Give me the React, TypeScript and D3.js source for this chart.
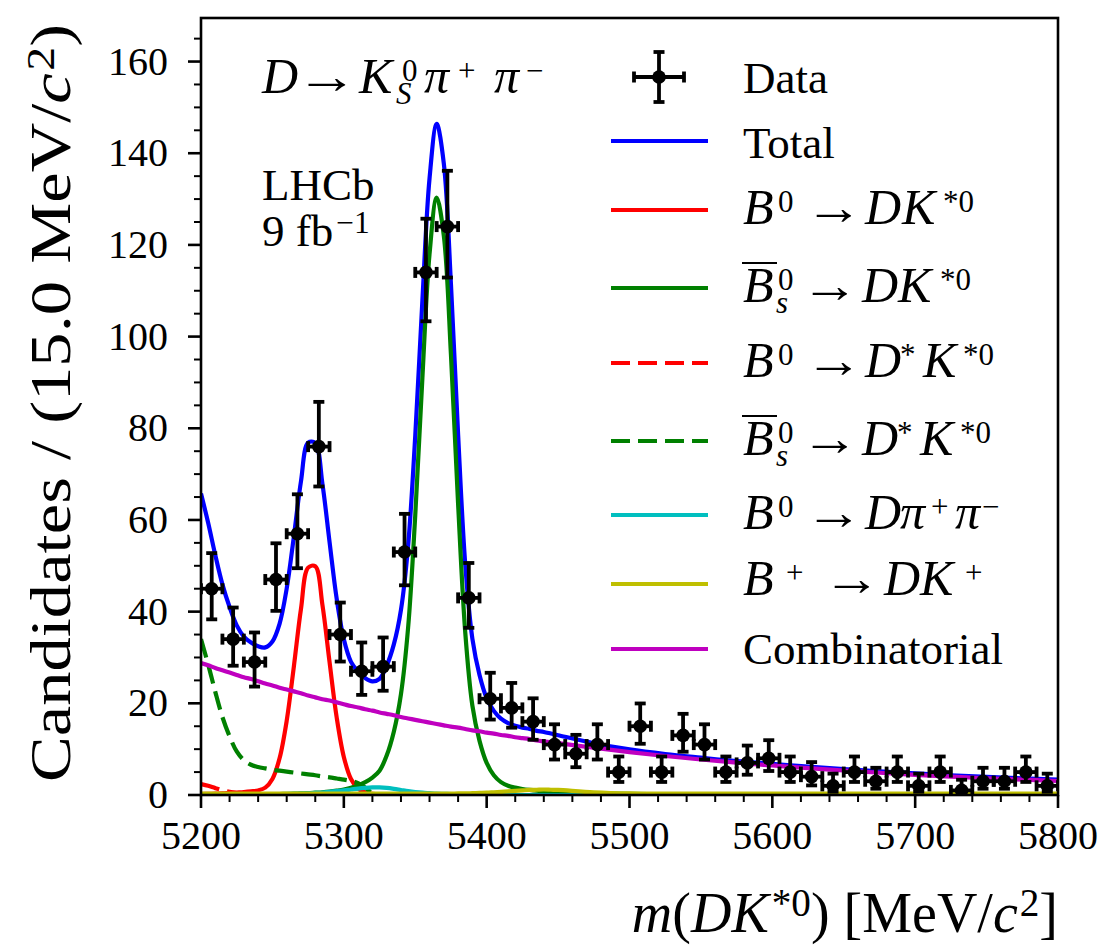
import React from "react";
import * as d3 from "d3";

// ---------------- data ----------------
const binCenters = [
  5207.5, 5222.5, 5237.5, 5252.5, 5267.5, 5282.5, 5297.5, 5312.5, 5327.5, 5342.5,
  5357.5, 5372.5, 5387.5, 5402.5, 5417.5, 5432.5, 5447.5, 5462.5, 5477.5, 5492.5,
  5507.5, 5522.5, 5537.5, 5552.5, 5567.5, 5582.5, 5597.5, 5612.5, 5627.5, 5642.5,
  5657.5, 5672.5, 5687.5, 5702.5, 5717.5, 5732.5, 5747.5, 5762.5, 5777.5, 5792.5,
];
const counts = [
  45, 34, 29, 47, 57, 76, 35, 27, 28, 53,
  114, 124, 43, 21, 19, 16, 11, 9, 11, 5,
  15, 5, 13, 11, 5, 7, 8, 5, 4, 2,
  5, 3, 5, 2, 5, 1, 3, 3, 5, 2,
];
const binHalfWidth = 7.5;

const gridMass = [
  5200, 5205, 5210, 5215, 5220, 5225, 5230, 5235, 5240, 5245, 5250, 5255, 5260, 5265, 5270,
  5275, 5280, 5285, 5290, 5295, 5300, 5305, 5310, 5315, 5320, 5325, 5330, 5335, 5340, 5345,
  5350, 5355, 5360, 5365, 5370, 5375, 5380, 5385, 5390, 5395, 5400, 5405, 5410, 5415, 5420,
  5425, 5430, 5435, 5440, 5445, 5450,
  5475, 5500, 5525, 5550, 5575, 5600, 5625, 5650, 5675, 5700, 5725, 5750, 5775, 5800,
];
const combinatorial = [
  28.8, 28.3, 27.7, 27.2, 26.7, 26.2, 25.7, 25.3, 24.8, 24.3, 23.9, 23.4, 23.0, 22.6, 22.2,
  21.7, 21.3, 20.9, 20.6, 20.2, 19.8, 19.4, 19.1, 18.7, 18.4, 18.0, 17.7, 17.4, 17.0, 16.7,
  16.4, 16.1, 15.8, 15.5, 15.2, 14.9, 14.7, 14.4, 14.1, 13.9, 13.6, 13.4, 13.1, 12.9, 12.6,
  12.4, 12.2, 11.9, 11.7, 11.5, 11.3,
  10.3, 9.35, 8.5, 7.75, 7.05, 6.45, 5.85, 5.35, 4.85, 4.4, 4.0, 3.65, 3.35, 3.05,
];
const b0DKst = [
  0.2, 0.25, 0.3, 0.35, 0.45, 0.55, 0.65, 0.8, 1.0, 1.6, 3.5, 8.0, 16.2, 28.0, 40.6,
  49.6, 49.9, 41.5, 29.0, 16.9, 8.3, 3.5, 1.4, 0.55, 0.25, 0.1, 0.05, 0, 0, 0,
  0, 0, 0, 0, 0, 0, 0, 0, 0, 0, 0, 0, 0, 0, 0,
  0, 0, 0, 0, 0, 0,
  0, 0, 0, 0, 0, 0, 0, 0, 0, 0, 0, 0, 0, 0,
];
const bsDKst = [
  0, 0, 0, 0, 0, 0, 0.05, 0.05, 0.1, 0.1, 0.15, 0.2, 0.25, 0.3, 0.35,
  0.4, 0.5, 0.6, 0.75, 0.95, 1.2, 1.6, 2.1, 2.8, 3.8, 5.3, 8.6, 13.8, 22.0, 36.5,
  61.0, 91.0, 118.0, 130.3, 122.0, 96.0, 63.5, 35.5, 19.5, 11.8, 7.0, 4.3, 2.8, 2.0, 1.6,
  1.3, 1.1, 0.95, 0.85, 0.75, 0.65,
  0.4, 0.25, 0.15, 0.1, 0.05, 0.05, 0.05, 0, 0, 0, 0, 0, 0, 0,
];
const b0DstKst = [
  2.4, 2.0, 1.5, 1.05, 0.7, 0.4, 0.2, 0.1, 0.05, 0, 0, 0, 0, 0, 0,
  0, 0, 0, 0, 0, 0, 0, 0, 0, 0, 0, 0, 0, 0, 0,
  0, 0, 0, 0, 0, 0, 0, 0, 0, 0, 0, 0, 0, 0, 0,
  0, 0, 0, 0, 0, 0,
  0, 0, 0, 0, 0, 0, 0, 0, 0, 0, 0, 0, 0, 0,
];
const bsDstKst = [
  34.0, 28.5, 22.5, 17.0, 12.8, 9.5, 7.6, 6.6, 6.1, 5.8, 5.5, 5.3, 5.1, 4.9, 4.7,
  4.5, 4.3, 4.05, 3.85, 3.6, 3.35, 3.05, 2.6, 1.6, 0.4, 0, 0, 0, 0, 0,
  0, 0, 0, 0, 0, 0, 0, 0, 0, 0, 0, 0, 0, 0, 0,
  0, 0, 0, 0, 0, 0,
  0, 0, 0, 0, 0, 0, 0, 0, 0, 0, 0, 0, 0, 0,
];
const b0Dpipi = [
  0.05, 0.05, 0.05, 0.05, 0.05, 0.05, 0.05, 0.1, 0.1, 0.1, 0.15, 0.15, 0.2, 0.25, 0.3,
  0.35, 0.45, 0.55, 0.7, 0.85, 1.0, 1.2, 1.4, 1.55, 1.65, 1.65, 1.55, 1.35, 1.1, 0.85,
  0.65, 0.5, 0.4, 0.3, 0.25, 0.2, 0.15, 0.1, 0.1, 0.05, 0.05, 0.05, 0.05, 0, 0,
  0, 0, 0, 0, 0, 0,
  0, 0, 0, 0, 0, 0, 0, 0, 0, 0, 0, 0, 0, 0,
];
const bpDKp = [
  0.3, 0.3, 0.3, 0.3, 0.3, 0.3, 0.3, 0.3, 0.3, 0.3, 0.3, 0.3, 0.3, 0.3, 0.3,
  0.3, 0.3, 0.3, 0.3, 0.3, 0.3, 0.3, 0.3, 0.3, 0.3, 0.3, 0.3, 0.3, 0.3, 0.3,
  0.3, 0.3, 0.3, 0.3, 0.3, 0.3, 0.35, 0.35, 0.4, 0.45, 0.5, 0.6, 0.7, 0.8, 0.9,
  1.0, 1.1, 1.15, 1.2, 1.15, 1.1,
  0.6, 0.35, 0.3, 0.3, 0.3, 0.3, 0.3, 0.3, 0.3, 0.3, 0.3, 0.3, 0.3, 0.3,
];

const yMajorTicks = [0, 20, 40, 60, 80, 100, 120, 140, 160];
const xMajorTicks = [5200, 5300, 5400, 5500, 5600, 5700, 5800];

// ---------------- layout ----------------
const W = 1103;
const H = 945;
const PL = 201, PR = 1058, PT = 18, PB = 795;
const FONT = "Liberation Serif";

const xScale = d3.scaleLinear().domain([5200, 5800]).range([PL, PR]);
const yScale = d3.scaleLinear().domain([0, 169.5]).range([PB, PT]);

const lineGen = d3
  .line<[number, number]>()
  .x((d) => xScale(d[0]))
  .y((d) => yScale(d[1]))
  .curve(d3.curveCatmullRom.alpha(0.5));

const comps = [b0DKst, bsDKst, b0DstKst, bsDstKst, b0Dpipi, bpDKp, combinatorial];
const total = gridMass.map((_, i) => comps.reduce((s, c) => s + c[i], 0));

const pts = (ys: number[]) => gridMass.map((m, i) => [m, ys[i]] as [number, number]);

const LW = 4.2;
const DASH = "19 8";

const seriesDraw = [
  { ys: total, color: "#0000ff", dash: null },
  { ys: b0DKst, color: "#ff0000", dash: null },
  { ys: bsDKst, color: "#008000", dash: null },
  { ys: b0DstKst, color: "#ff0000", dash: DASH },
  { ys: bsDstKst, color: "#008000", dash: DASH },
  { ys: b0Dpipi, color: "#00bfbf", dash: null },
  { ys: bpDKp, color: "#bfbf00", dash: null },
  { ys: combinatorial, color: "#bf00bf", dash: null },
];

function poissonLow(n: number) {
  if (n <= 0) return 0;
  const t = 1 - 1 / (9 * n) - 1 / (3 * Math.sqrt(n));
  return n * t * t * t;
}
function poissonHigh(n: number) {
  return n + Math.sqrt(n + 0.75) + 1;
}

type Part = { s: string; it?: boolean; pos?: "sup" | "sub"; dx?: number; x?: number; w?: number };

function Rich(props: {
  x: number;
  y: number;
  fs: number;
  parts: Part[];
  anchor?: string;
  transform?: string;
  textLength?: number;
  supScale?: number;
  supShift?: number;
  subShift?: number;
}) {
  const { x, y, fs, parts, anchor, transform, textLength } = props;
  const supScale = props.supScale ?? 0.7;
  const supShift = props.supShift ?? 0.28;
  const subShift = props.subShift ?? 0.23;
  let cur = 0;
  const kids = parts.map((p, i) => {
    const target = p.pos === "sup" ? -supShift * fs : p.pos === "sub" ? subShift * fs : 0;
    const dy = target - cur;
    cur = target;
    const extra: any = {};
    if (p.x !== undefined) extra.x = p.x;
    if (p.w !== undefined) {
      extra.textLength = p.w;
      extra.lengthAdjust = "spacingAndGlyphs";
    }
    return (
      <tspan
        key={i}
        dy={dy}
        dx={p.dx ?? 0}
        fontStyle={p.it ? "italic" : "normal"}
        fontSize={p.pos ? fs * supScale : fs}
        {...extra}
      >
        {p.s}
      </tspan>
    );
  });
  const extraT: any = {};
  if (textLength) {
    extraT.textLength = textLength;
    extraT.lengthAdjust = "spacingAndGlyphs";
  }
  return (
    <text
      x={x}
      y={y}
      fontSize={fs}
      fontFamily={FONT}
      textAnchor={anchor ?? "start"}
      transform={transform}
      fill="#000"
      style={{ whiteSpace: "pre" }}
      {...extraT}
    >
      {kids}
    </text>
  );
}

function DataMark({ cx, cy, hx, vy0, vy1, cap, r }: any) {
  return (
    <g stroke="#000" strokeWidth={3.8} fill="#000">
      <line x1={cx - hx} x2={cx + hx} y1={cy} y2={cy} />
      <line x1={cx} x2={cx} y1={vy0} y2={vy1} />
      <line x1={cx - cap} x2={cx + cap} y1={vy0} y2={vy0} />
      <line x1={cx - cap} x2={cx + cap} y1={vy1} y2={vy1} />
      <line x1={cx - hx} x2={cx - hx} y1={cy - cap} y2={cy + cap} />
      <line x1={cx + hx} x2={cx + hx} y1={cy - cap} y2={cy + cap} />
      <circle cx={cx} cy={cy} r={r} stroke="none" />
    </g>
  );
}

const AW = 58; // arrow advance width in legend (glyph has side bearings)
const AO = 7; // left bearing offset of the stretched arrow
const MFS = 50; // math font size
const MSUP = 0.62;

const legendRows: { lineY: number; baseY: number; color: string; dash: string | null; parts: Part[]; bar?: boolean; math?: boolean }[] = [
  { lineY: 141, baseY: 158, color: "#0000ff", dash: null, parts: [{ s: "Total" }] },
  {
    lineY: 210, baseY: 224, color: "#ff0000", dash: null, math: true,
    parts: [
      { s: "B", it: true, x: 743 }, { s: "0", pos: "sup", x: 778 }, { s: "→", x: 812 - AO, w: AW },
      { s: "D", it: true, x: 865 }, { s: "K", it: true, x: 902 }, { s: "*0", pos: "sup", x: 943 },
    ],
  },
  {
    lineY: 288, baseY: 302, color: "#008000", dash: null, bar: true, math: true,
    parts: [
      { s: "B", it: true, x: 743 }, { s: "0", pos: "sup", x: 778 }, { s: "s", it: true, pos: "sub", x: 776 },
      { s: "→", x: 808 - AO, w: AW }, { s: "D", it: true, x: 862 }, { s: "K", it: true, x: 898 },
      { s: "*0", pos: "sup", x: 940 },
    ],
  },
  {
    lineY: 363, baseY: 377, color: "#ff0000", dash: DASH, math: true,
    parts: [
      { s: "B", it: true, x: 743 }, { s: "0", pos: "sup", x: 778 }, { s: "→", x: 812 - AO, w: AW },
      { s: "D", it: true, x: 865 }, { s: "*", pos: "sup", x: 900 }, { s: "K", it: true, x: 923 },
      { s: "*0", pos: "sup", x: 963 },
    ],
  },
  {
    lineY: 441, baseY: 455, color: "#008000", dash: DASH, bar: true, math: true,
    parts: [
      { s: "B", it: true, x: 743 }, { s: "0", pos: "sup", x: 778 }, { s: "s", it: true, pos: "sub", x: 776 },
      { s: "→", x: 808 - AO, w: AW }, { s: "D", it: true, x: 862 }, { s: "*", pos: "sup", x: 897 },
      { s: "K", it: true, x: 920 }, { s: "*0", pos: "sup", x: 960 },
    ],
  },
  {
    lineY: 515, baseY: 529, color: "#00bfbf", dash: null, math: true,
    parts: [
      { s: "B", it: true, x: 743 }, { s: "0", pos: "sup", x: 778 }, { s: "→", x: 812 - AO, w: AW },
      { s: "D", it: true, x: 865 }, { s: "π", it: true, x: 900 }, { s: "+", pos: "sup", x: 931 },
      { s: "π", it: true, x: 955 }, { s: "−", pos: "sup", x: 982 },
    ],
  },
  {
    lineY: 584, baseY: 595, color: "#bfbf00", dash: null, math: true,
    parts: [
      { s: "B", it: true, x: 743 }, { s: "+", pos: "sup", x: 786 }, { s: "→", x: 830 - AO, w: AW },
      { s: "D", it: true, x: 884 }, { s: "K", it: true, x: 920 }, { s: "+", pos: "sup", x: 965 },
    ],
  },
  { lineY: 649, baseY: 664, color: "#bf00bf", dash: null, parts: [{ s: "Combinatorial" }] },
];

export default function App() {
  const plotW = PR - PL;
  const plotH = PB - PT;
  const yMinor = d3.range(0, 170, 5).filter((v) => v % 20 !== 0);
  const xMinor = d3.range(5200, 5801, 20).filter((v) => v % 100 !== 0);

  return (
    <svg
      width={W}
      height={H}
      viewBox={`0 0 ${W} ${H}`}
      style={{ position: "absolute", left: 0, top: 0, background: "#fff" }}
    >
      <defs>
        <clipPath id="plotClip">
          <rect x={PL} y={PT} width={plotW} height={plotH} />
        </clipPath>
      </defs>
      <rect x={0} y={0} width={W} height={H} fill="#fff" />

      {/* fit curves */}
      <g clipPath="url(#plotClip)" fill="none" strokeLinejoin="round">
        {seriesDraw.map((s, i) => (
          <path
            key={i}
            d={lineGen(pts(s.ys)) ?? ""}
            stroke={s.color}
            strokeWidth={LW}
            strokeDasharray={s.dash ?? undefined}
          />
        ))}
      </g>

      {/* data */}
      <g clipPath="url(#plotClip)">
        {binCenters.map((c, i) => {
          const n = counts[i];
          const cx = xScale(c);
          const cy = yScale(n);
          const hx = xScale(c + binHalfWidth) - cx;
          return (
            <DataMark
              key={i}
              cx={cx}
              cy={cy}
              hx={hx}
              vy0={yScale(poissonHigh(n))}
              vy1={yScale(poissonLow(n))}
              cap={5.5}
              r={6.8}
            />
          );
        })}
      </g>

      {/* frame */}
      <rect x={PL} y={PT} width={plotW} height={plotH} fill="none" stroke="#000" strokeWidth={2.6} />

      {/* ticks */}
      <g stroke="#000">
        {yMajorTicks.map((v) => (
          <line key={"ym" + v} x1={PL} x2={PL - 13} y1={yScale(v)} y2={yScale(v)} strokeWidth={2.6} />
        ))}
        {yMinor.map((v) => (
          <line key={"yn" + v} x1={PL} x2={PL - 7} y1={yScale(v)} y2={yScale(v)} strokeWidth={2} />
        ))}
        {xMajorTicks.map((v) => (
          <line key={"xm" + v} x1={xScale(v)} x2={xScale(v)} y1={PB} y2={PB + 13} strokeWidth={2.6} />
        ))}
        {xMinor.map((v) => (
          <line key={"xn" + v} x1={xScale(v)} x2={xScale(v)} y1={PB} y2={PB + 7} strokeWidth={2} />
        ))}
      </g>
      <g fontFamily={FONT} fontSize={40} fill="#000">
        {yMajorTicks.map((v) => (
          <text key={"yl" + v} x={PL - 33} y={yScale(v) + 13} textAnchor="end">
            {v}
          </text>
        ))}
        {xMajorTicks.map((v) => (
          <text key={"xl" + v} x={xScale(v)} y={849} textAnchor="middle">
            {v}
          </text>
        ))}
      </g>

      {/* axis titles */}
      <Rich
        x={0}
        y={0}
        fs={58}
        anchor="end"
        textLength={758}
        transform={`translate(70, 24) rotate(-90)`}
        parts={[{ s: "Candidates / (15.0 MeV/" }, { s: "c", it: true }, { s: "2", pos: "sup", dx: 2 }, { s: ")" }]}
      />
      <Rich
        x={PR}
        y={932}
        fs={56}
        anchor="end"
        parts={[
          { s: "m", it: true },
          { s: "(" },
          { s: "DK", it: true },
          { s: "*0", pos: "sup", dx: 3 },
          { s: ") [MeV/" },
          { s: "c", it: true },
          { s: "2", pos: "sup", dx: 2 },
          { s: "]" },
        ]}
      />

      {/* decay mode and experiment labels */}
      <Rich
        x={262}
        y={93}
        fs={MFS}
        supScale={MSUP}
        supShift={0.24}
        subShift={0.22}
        parts={[
          { s: "D", it: true, x: 262 },
          { s: "→", x: 303 - AO, w: 62 },
          { s: "K", it: true, x: 359 },
          { s: "0", pos: "sup", x: 402 },
          { s: "S", it: true, pos: "sub", x: 396 },
          { s: "π", it: true, x: 424 },
          { s: "+", pos: "sup", x: 458 },
          { s: "π", it: true, x: 494 },
          { s: "−", pos: "sup", x: 526 },
        ]}
      />
      <Rich x={262} y={200} fs={45} parts={[{ s: "LHCb" }]} />
      <Rich x={262} y={246} fs={45} parts={[{ s: "9 fb" }, { s: "−1", pos: "sup", dx: 3 }]} />

      {/* legend */}
      <DataMark cx={659} cy={77} hx={25} vy0={52} vy1={102} cap={5.5} r={6.8} />
      <Rich x={743} y={93} fs={45} parts={[{ s: "Data" }]} />
      {legendRows.map((r, i) => (
        <g key={"lg" + i}>
          <line
            x1={611}
            x2={708}
            y1={r.lineY}
            y2={r.lineY}
            stroke={r.color}
            strokeWidth={LW}
            strokeDasharray={r.dash ?? undefined}
          />
          {r.bar && <line x1={742} x2={777} y1={r.baseY - 39} y2={r.baseY - 39} stroke="#000" strokeWidth={2.2} />}
          {r.math ? (
            <Rich x={743} y={r.baseY} fs={MFS} supScale={MSUP} supShift={0.24} subShift={0.22} parts={r.parts} />
          ) : (
            <Rich x={743} y={r.baseY} fs={45} parts={r.parts} />
          )}
        </g>
      ))}
    </svg>
  );
}
